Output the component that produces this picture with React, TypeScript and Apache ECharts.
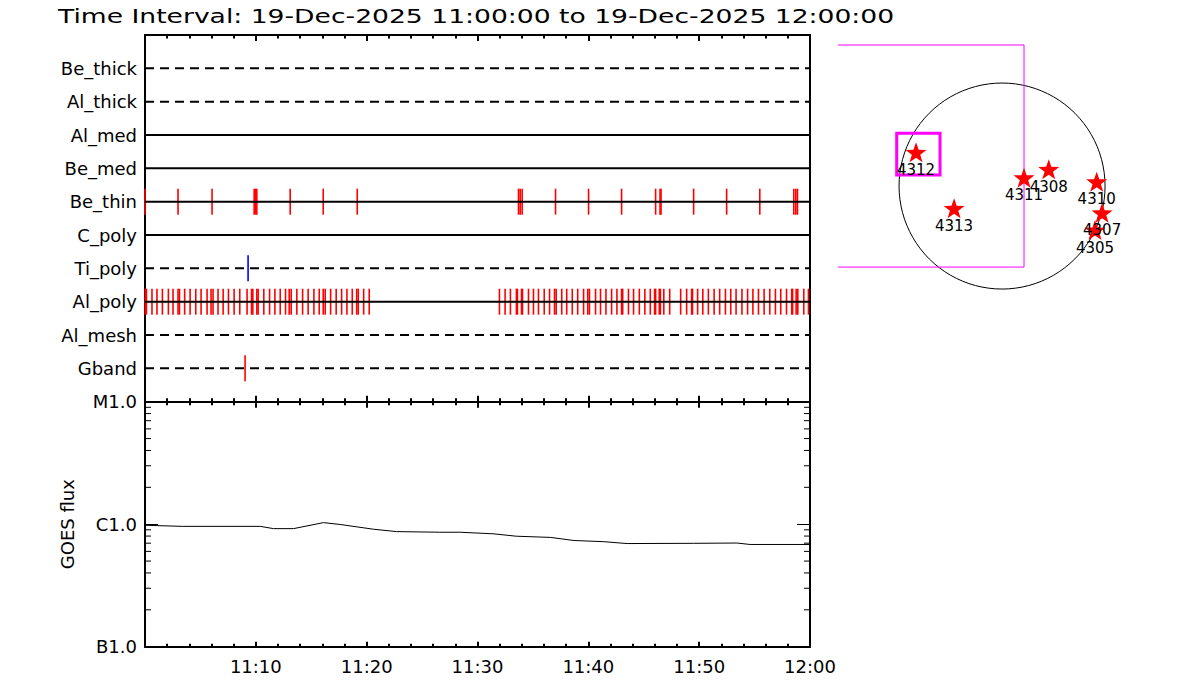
import React, { useEffect, useRef } from "react";
import * as echarts from "echarts";

// ---------- data ----------
const TITLE = "Time Interval: 19-Dec-2025 11:00:00 to 19-Dec-2025 12:00:00";

// filter rows, top to bottom
const FILTERS = ["Be_thick", "Al_thick", "Al_med", "Be_med", "Be_thin", "C_poly", "Ti_poly", "Al_poly", "Al_mesh", "Gband"];
const FILTER_DASHED = [true, true, false, false, false, false, true, false, true, true];

// exposure times, minutes after 11:00 UT
const BE_THIN_TIMES = [0.0, 2.98, 6.05, 9.85, 9.97, 10.09, 13.1, 16.08, 19.15, 33.7, 33.85, 34.03, 37.04, 40.02, 43.0, 46.07, 46.47, 46.56, 49.5, 52.48, 55.47, 58.54, 58.72, 58.87];
const AL_POLY_TIMES = [
  0.02, 0.13, 0.63, 1.08, 1.57, 2.11, 2.53, 2.98, 3.11, 3.58, 4.07, 4.58, 5.06, 5.6, 5.96, 6.14, 6.59, 7.05, 7.53, 8.04, 8.55,
  9.21, 9.61, 9.73, 10.09, 10.21, 10.72, 11.24, 11.72, 12.2, 12.68, 13.01, 13.19, 13.7, 14.22, 14.72, 15.24, 15.72, 16.08,
  16.26, 16.75, 17.25, 17.74, 18.22, 18.7, 19.1, 19.24, 19.73, 20.23,
  31.98, 32.49, 32.97, 33.51, 33.6, 33.97, 34.06, 34.6, 35.05, 35.5, 36.02, 36.5, 36.95, 37.1, 37.6, 38.05, 38.55, 39.04,
  39.57, 39.95, 40.1, 40.65, 41.1, 41.59, 42.1, 42.58, 43.0, 43.1, 43.62, 44.08, 44.6, 45.1, 45.59, 45.98, 46.07, 46.4, 46.5,
  46.81, 47.34, 48.33, 48.87, 49.32, 49.4, 49.86, 50.33, 50.83, 51.35, 51.85, 52.37, 52.85, 53.33, 53.86, 54.37, 54.85,
  55.35, 55.86, 56.37, 56.88, 57.36, 57.88, 58.35, 58.43, 58.75, 58.9, 59.44, 59.86,
];
const TI_POLY_TIMES = [9.3];
const GBAND_TIMES = [9.03];

// GOES flux (W/m^2) vs minutes after 11:00
const GOES_TIMES = [0, 3.4, 10.4, 11.6, 13.4, 16.1, 17.6, 20.6, 22.7, 26.6, 28.4, 31.4, 33.5, 36.6, 38.7, 41.4, 43.5, 49.5, 53.4, 54.6, 60];
const GOES_FLUX = [9.8e-7, 9.6e-7, 9.6e-7, 9.2e-7, 9.2e-7, 1.03e-6, 9.95e-7, 9.1e-7, 8.7e-7, 8.6e-7, 8.6e-7, 8.35e-7, 7.98e-7, 7.8e-7, 7.36e-7, 7.2e-7, 6.95e-7, 6.98e-7, 7.02e-7, 6.83e-7, 6.83e-7];
const GOES_CLASS_LABELS = ["B1.0", "C1.0", "M1.0"]; // 1e-7, 1e-6, 1e-5
const GOES_MINOR_TICKS = [2e-7, 3e-7, 4e-7, 5e-7, 6e-7, 7e-7, 8e-7, 9e-7, 2e-6, 3e-6, 4e-6, 5e-6, 6e-6, 7e-6, 8e-6, 9e-6];

// time axis labels (minutes after 11:00)
const TIME_LABELS: Record<number, string> = { 0: "", 10: "11:10", 20: "11:20", 30: "11:30", 40: "11:40", 50: "11:50", 60: "12:00" };

// solar map (arcsec)
const SUN_RADIUS = 975;
const AR_NUMBERS = ["4312", "4313", "4311", "4308", "4310", "4307", "4305"];
const AR_X = [-814, -454, 208, 442, 896, 947, 880];
const AR_Y = [319, -211, 79, 158, 41, -253, -417];
const FOV_BOX = [-1700, -767, 208, 1335]; // x1, y1, x2, y2
const SUB_BOX = [-997, 104, -587, 499];

const STAR = "path://M0,-10L2.35,-3.24L9.51,-3.09L3.8,1.24L5.88,8.09L0,4L-5.88,8.09L-3.8,1.24L-9.51,-3.09L-2.35,-3.24Z";
const FONT = "DejaVu Sans";

export default function App() {
  const ref = useRef<HTMLDivElement>(null);
  useEffect(() => {
    if (!ref.current) return;
    const chart = echarts.init(ref.current, undefined, { renderer: "svg" });
    const nRows = FILTERS.length;
    const rowVal = (name: string) => nRows - FILTERS.indexOf(name);
    const axisLine = { show: true, onZero: false, lineStyle: { color: "#000", width: 2 } };
    const timeAxis = (gridIndex: number, position: "top" | "bottom", labels: boolean, major: number, minor: number) => ({
      type: "value",
      gridIndex,
      position,
      min: 0,
      max: 60,
      interval: 10,
      axisLine,
      axisTick: { show: true, inside: true, length: major, lineStyle: { color: "#000", width: 2 } },
      minorTick: { show: true, splitNumber: 5, length: minor, lineStyle: { color: "#000", width: 2 } },
      splitLine: { show: false },
      minorSplitLine: { show: false },
      axisLabel: labels
        ? { show: true, fontFamily: FONT, fontSize: 18, color: "#000", margin: 11, formatter: (v: number) => TIME_LABELS[v] ?? "" }
        : { show: false },
    });

    const rowLines = FILTERS.map((f, i) => ({
      type: "line",
      xAxisIndex: 0,
      yAxisIndex: 0,
      data: [[0, rowVal(f)], [60, rowVal(f)]],
      symbol: "none",
      silent: true,
      z: 5,
      lineStyle: { color: "#000", width: 2, type: FILTER_DASHED[i] ? [9, 6] : "solid" },
    }));
    const marks = (times: number[], name: string, color: string) => ({
      type: "scatter",
      xAxisIndex: 0,
      yAxisIndex: 0,
      data: times.map((t) => [t, rowVal(name)]),
      symbol: "rect",
      symbolSize: [1.6, 26],
      itemStyle: { color, opacity: 1 },
      z: 3,
      silent: true,
    });

    const option: any = {
      animation: false,
      textStyle: { fontFamily: FONT },
      graphic: [
        {
          type: "text",
          x: 58,
          y: 16,
          scaleX: 1.33,
          style: { text: TITLE, fontFamily: FONT, fontSize: 20, fill: "#000", verticalAlign: "middle" },
        },
      ],
      grid: [
        { left: 145, top: 35, width: 665, height: 366.7 },
        { left: 145, top: 401.7, width: 665, height: 245 },
        { left: 838.3, top: 22.3, width: 327.5, height: 327.5 },
      ],
      xAxis: [
        timeAxis(0, "bottom", false, 6, 3.5),
        timeAxis(0, "top", false, 6, 3.5),
        timeAxis(1, "bottom", true, 5, 3),
        timeAxis(1, "top", false, 6, 3.5),
        { type: "value", gridIndex: 2, min: -1550, max: 1550, show: false },
      ],
      yAxis: [
        {
          type: "value",
          gridIndex: 0,
          position: "left",
          min: 0,
          max: nRows + 1,
          interval: 1,
          axisLine,
          axisTick: { show: false },
          splitLine: { show: false },
          axisLabel: {
            fontFamily: FONT,
            fontSize: 18,
            color: "#000",
            margin: 8,
            formatter: (v: number) => FILTERS[nRows - v] ?? "",
          },
        },
        {
          type: "value",
          gridIndex: 0,
          position: "right",
          min: 0,
          max: nRows + 1,
          axisLine,
          axisTick: { show: false },
          axisLabel: { show: false },
          splitLine: { show: false },
        },
        {
          type: "log",
          gridIndex: 1,
          position: "left",
          min: 1e-7,
          max: 1e-5,
          logBase: 10,
          axisLine,
          axisTick: { show: true, inside: true, length: 13, lineStyle: { color: "#000", width: 1 } },
          splitLine: { show: false },
          axisLabel: {
            fontFamily: FONT,
            fontSize: 18,
            color: "#000",
            margin: 8,
            formatter: (v: number) => GOES_CLASS_LABELS[Math.round(Math.log10(v)) + 7] ?? "",
          },
          name: "GOES flux",
          nameLocation: "middle",
          nameGap: 69,
          nameTextStyle: { fontFamily: FONT, fontSize: 18, color: "#000" },
        },
        {
          type: "log",
          gridIndex: 1,
          position: "right",
          min: 1e-7,
          max: 1e-5,
          logBase: 10,
          axisLine,
          axisTick: { show: true, inside: true, length: 13, lineStyle: { color: "#000", width: 1 } },
          splitLine: { show: false },
          axisLabel: { show: false },
        },
        { type: "value", gridIndex: 2, min: -1550, max: 1550, show: false },
      ],
      series: [
        ...rowLines,
        marks(BE_THIN_TIMES, "Be_thin", "#ff0000"),
        marks(AL_POLY_TIMES, "Al_poly", "#ff0000"),
        marks(TI_POLY_TIMES, "Ti_poly", "#0000ff"),
        marks(GBAND_TIMES, "Gband", "#ff0000"),
        {
          type: "line",
          xAxisIndex: 2,
          yAxisIndex: 2,
          data: GOES_TIMES.map((t, i) => [t, GOES_FLUX[i]]),
          symbol: "none",
          silent: true,
          lineStyle: { color: "#000", width: 1 },
        },
        {
          type: "custom",
          xAxisIndex: 2,
          yAxisIndex: 2,
          silent: true,
          data: GOES_MINOR_TICKS.map((v) => [0, v]),
          renderItem: (params: any, api: any) => {
            const y = api.coord([0, api.value(1)])[1];
            const cs = params.coordSys;
            return {
              type: "group",
              children: [
                { type: "line", shape: { x1: cs.x, y1: y, x2: cs.x + 6, y2: y }, style: { stroke: "#000", lineWidth: 1 } },
                { type: "line", shape: { x1: cs.x + cs.width - 6, y1: y, x2: cs.x + cs.width, y2: y }, style: { stroke: "#000", lineWidth: 1 } },
              ],
            };
          },
        },
        {
          type: "custom",
          xAxisIndex: 4,
          yAxisIndex: 4,
          silent: true,
          data: [[0, 0, SUN_RADIUS]],
          renderItem: (params: any, api: any) => {
            const c = api.coord([api.value(0), api.value(1)]);
            const r = api.size([api.value(2), 0])[0];
            return { type: "circle", shape: { cx: c[0], cy: c[1], r }, style: { fill: "none", stroke: "#000", lineWidth: 1 } };
          },
        },
        {
          type: "custom",
          xAxisIndex: 4,
          yAxisIndex: 4,
          silent: true,
          clip: true,
          data: [FOV_BOX],
          renderItem: (params: any, api: any) => {
            const p1 = api.coord([api.value(0), api.value(3)]);
            const p2 = api.coord([api.value(2), api.value(1)]);
            return {
              type: "rect",
              shape: { x: p1[0], y: p1[1], width: p2[0] - p1[0], height: p2[1] - p1[1] },
              style: { fill: "none", stroke: "#ff00ff", lineWidth: 1 },
            };
          },
        },
        {
          type: "custom",
          xAxisIndex: 4,
          yAxisIndex: 4,
          silent: true,
          data: [SUB_BOX],
          renderItem: (params: any, api: any) => {
            const p1 = api.coord([api.value(0), api.value(3)]);
            const p2 = api.coord([api.value(2), api.value(1)]);
            return {
              type: "rect",
              shape: { x: p1[0], y: p1[1], width: p2[0] - p1[0], height: p2[1] - p1[1] },
              style: { fill: "none", stroke: "#ff00ff", lineWidth: 3 },
            };
          },
        },
        {
          type: "scatter",
          xAxisIndex: 4,
          yAxisIndex: 4,
          silent: true,
          symbol: STAR,
          symbolSize: [21, 20],
          itemStyle: { color: "#ff0000", opacity: 1 },
          z: 4,
          label: {
            show: true,
            position: "bottom",
            distance: 0,
            formatter: "{b}",
            fontFamily: FONT,
            fontSize: 15,
            color: "#000",
          },
          data: AR_NUMBERS.map((n, i) => ({ name: n, value: [AR_X[i], AR_Y[i]] })),
        },
      ],
    };
    chart.setOption(option);
    return () => chart.dispose();
  }, []);
  return <div ref={ref} style={{ position: "absolute", left: 0, top: 0, width: 1200, height: 700, background: "#fff" }} />;
}
